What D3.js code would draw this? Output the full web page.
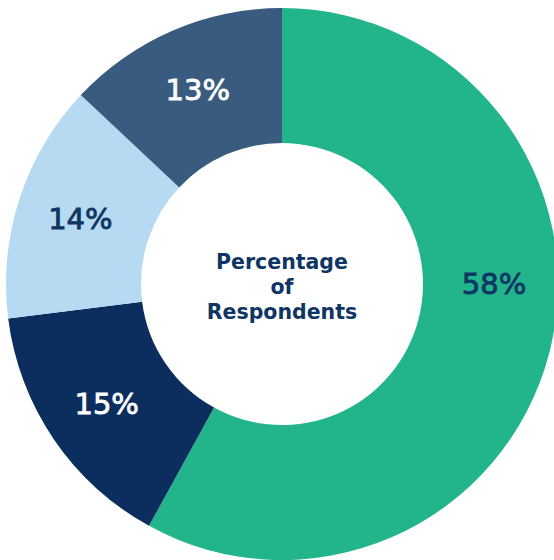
<!DOCTYPE html>
<html>
<head>
<meta charset="utf-8">
<script src="https://cdn.jsdelivr.net/npm/d3@7"></script>
<style>
  html, body { margin: 0; padding: 0; background: #fff; }
  svg { display: block; }
</style>
</head>
<body>
<svg id="chart" width="554" height="560"></svg>
<script>
const categories = ["A", "B", "C", "D"];
const values = [58, 15, 14, 13];
const labels = ["58%", "15%", "14%", "13%"];
const colors = ["#22B58B", "#0B2E5E", "#B5DAF1", "#3A5B80"];
const labelColors = ["#0E3563", "#FFFFFF", "#0E3563", "#FFFFFF"];
const centerLines = ["Percentage", "of", "Respondents"];

const svg = d3.select("#chart");
const cx = 282, cy = 284, outerR = 276, innerR = 141, labelR = 212;
const g = svg.append("g").attr("transform", `translate(${cx},${cy})`);

const pie = d3.pie().sort(null).value(d => d.value);
const data = pie(categories.map((c, i) => ({ cat: c, value: values[i], i })));

const arc = d3.arc().innerRadius(innerR).outerRadius(outerR);
g.selectAll("path.slice").data(data).enter().append("path")
  .attr("class", "slice")
  .attr("d", arc)
  .attr("fill", d => colors[d.data.i]);

const fontFam = "'DejaVu Sans', sans-serif";
g.selectAll("text.lbl").data(data).enter().append("text")
  .attr("class", "lbl")
  .attr("transform", d => {
    let a = (d.startAngle + d.endAngle) / 2;
    if (d.endAngle - d.startAngle > Math.PI) a = Math.PI / 2;
    return `translate(${labelR * Math.sin(a)},${-labelR * Math.cos(a)})`;
  })
  .attr("text-anchor", "middle")
  .attr("dy", "0.36em")
  .attr("fill", d => labelColors[d.data.i])
  .style("font-family", fontFam)
  .style("font-weight", 400)
  .style("font-size", "29px")
  .style("stroke", d => labelColors[d.data.i])
  .style("stroke-width", "0.8px")
  .text(d => labels[d.data.i]);

const ct = g.append("text")
  .attr("text-anchor", "middle")
  .attr("fill", "#0E3563")
  .style("font-family", fontFam)
  .style("font-weight", 700)
  .style("font-size", "20.5px");
centerLines.forEach((t, i) => {
  ct.append("tspan").attr("x", 0).attr("y", -15 + i * 25).text(t);
});
</script>
</body>
</html>
